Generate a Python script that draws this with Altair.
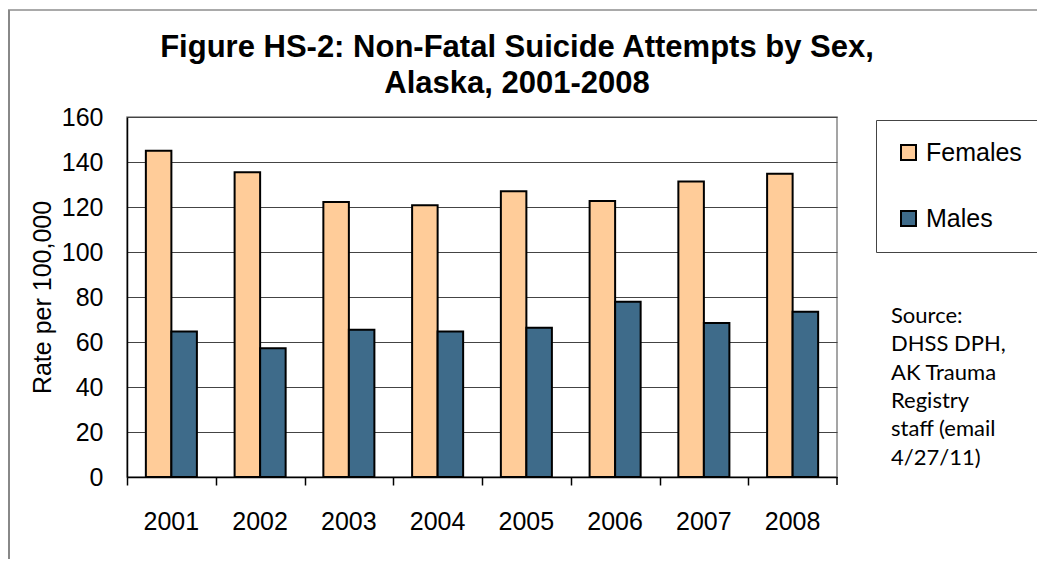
import altair as alt
import pandas as pd

years = ["2001", "2002", "2003", "2004", "2005", "2006", "2007", "2008"]
females = [145.0, 135.5, 122.2, 120.8, 127.0, 122.7, 131.3, 134.8]
males = [64.7, 57.2, 65.5, 64.7, 66.3, 77.9, 68.4, 73.4]
series = ["Females", "Males"]
colors = ["#FFCC99", "#3E6B8A"]
y_ticks = [0, 20, 40, 60, 80, 100, 120, 140, 160]
title_lines = ["Figure HS-2: Non-Fatal Suicide Attempts by Sex,", "Alaska, 2001-2008"]
source_lines = ["Source:", "DHSS DPH,", "AK Trauma", "Registry", "staff (email", "4/27/11)"]
y_title = "Rate per 100,000"

df = pd.DataFrame({
    "Year": years * 2,
    "Sex": [series[0]] * len(years) + [series[1]] * len(years),
    "Rate": females + males,
})
one = pd.DataFrame({"k": [0]})

W, H = 710, 360
STEP = W / len(years)
FONT = "Liberation Sans"

x_scale = alt.Scale(domain=years, paddingInner=0.425, paddingOuter=0.2125)

bars = alt.Chart(df).mark_bar(stroke="black", strokeWidth=2).encode(
    x=alt.X("Year:N", scale=x_scale,
            axis=alt.Axis(title=None, labelAngle=0, labelFontSize=25, labelFont=FONT,
                          labelColor="black", labelPadding=32, ticks=False,
                          domainColor="black", domainWidth=1.5, orient="bottom")),
    xOffset=alt.XOffset("Sex:N", scale=alt.Scale(domain=series, paddingInner=0, paddingOuter=0)),
    y=alt.Y("Rate:Q", scale=alt.Scale(domain=[0, 160], nice=False),
            axis=alt.Axis(values=y_ticks, title=y_title, titleFontSize=25, titleFont=FONT,
                          titleFontWeight="normal", titleColor="black", titlePadding=6,
                          labelFontSize=25, labelFont=FONT, labelColor="black",
                          labelPadding=24, ticks=False, grid=True, gridColor="#444",
                          gridWidth=1, domainColor="black", domainWidth=1.5)),
    color=alt.Color("Sex:N", scale=alt.Scale(domain=series, range=colors),
                    legend=alt.Legend(title=None, orient="none", legendX=749, legendY=3,
                                      direction="vertical", symbolType="square",
                                      symbolSize=225, symbolStrokeColor="black",
                                      symbolStrokeWidth=2, symbolOpacity=1,
                                      labelFontSize=25, labelFont=FONT, labelColor="black",
                                      labelOffset=5, rowPadding=40, padding=20,
                                      strokeColor="#444", fillColor="white")),
)

tick_axis = alt.Chart(df).mark_bar(opacity=0).encode(
    x=alt.X("Year:N", scale=x_scale,
            axis=alt.Axis(title=None, labels=False, ticks=True, tickSize=8,
                          tickColor="black", tickWidth=1.5, tickOffset=-STEP / 2,
                          domain=False, orient="bottom")),
)

end_tick = alt.Chart(one).mark_rule(color="black", strokeWidth=1.5).encode(
    x=alt.value(W), y=alt.value(H), y2=alt.value(H + 8)
)

title = alt.Chart(one).mark_text(
    align="center", baseline="alphabetic", font=FONT, fontSize=31,
    fontWeight="bold", lineHeight=36, color="black"
).encode(x=alt.value(390), y=alt.value(-60), text=alt.value(title_lines))

source = alt.Chart(one).mark_text(
    align="left", baseline="alphabetic", font="Lato", fontSize=22,
    lineHeight=28.3, color="black"
).encode(x=alt.value(764), y=alt.value(206), text=alt.value(source_lines))

frame_top = alt.Chart(one).mark_rule(color="#555", strokeWidth=1).encode(
    x=alt.value(-119), x2=alt.value(910), y=alt.value(-107)
)
frame_left = alt.Chart(one).mark_rule(color="#888", strokeWidth=2).encode(
    x=alt.value(-118), y=alt.value(-107), y2=alt.value(442)
)

chart = alt.layer(
    bars, tick_axis, end_tick, title, source, frame_top, frame_left
).resolve_axis(x="independent").properties(
    width=W, height=H,
    autosize=alt.AutoSizeParams(type="none"),
    padding={"left": 119, "top": 109, "right": 200, "bottom": 82},
).configure_view(stroke="#888", strokeWidth=1.5)

chart.save("out.html", embed_options={"renderer": "svg", "actions": False})
